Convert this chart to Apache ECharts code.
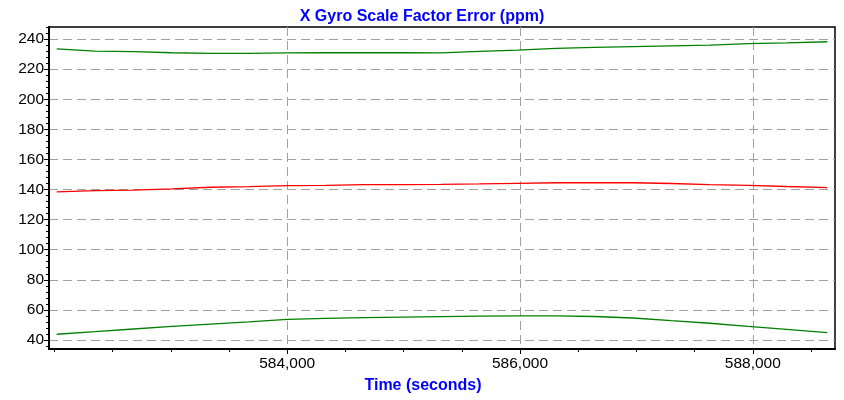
<!DOCTYPE html>
<html>
<head>
<meta charset="utf-8">
<script src="https://cdn.jsdelivr.net/npm/echarts@6/dist/echarts.min.js"></script>
<style>
html,body{margin:0;padding:0;background:#fff;}
#chart{width:844px;height:400px;}
</style>
</head>
<body>
<div id="chart"></div>
<script>
// ---- data ----
const timeSeconds = [582020, 582350, 582680, 583010, 583340, 583670, 584000, 584330, 584660, 584990, 585320, 585650, 585980, 586310, 586640, 586970, 587300, 587630, 587960, 588290, 588640];
const upperGreen = [233.4, 232.0, 231.6, 230.9, 230.5, 230.5, 230.8, 230.9, 230.9, 230.9, 230.8, 231.8, 232.6, 233.8, 234.5, 235.0, 235.5, 236.0, 236.9, 237.4, 238.2];
const middleRed  = [138.4, 139.2, 139.6, 140.4, 141.5, 141.9, 142.6, 142.8, 143.2, 143.3, 143.4, 143.7, 144.1, 144.5, 144.5, 144.5, 144.0, 143.3, 142.8, 142.0, 141.3];
const lowerGreen = [43.8, 45.5, 47.3, 49.0, 50.5, 52.0, 53.7, 54.3, 54.8, 55.2, 55.5, 55.8, 56.0, 56.0, 55.6, 54.6, 52.8, 51.1, 49.0, 47.0, 44.9];
const xMajorTicks = [584000, 586000, 588000];
const xMinorTicks = [582000, 582500, 583000, 583500, 584000, 584500, 585000, 585500, 586000, 586500, 587000, 587500, 588000, 588500];
const yMajorTicks = [40, 60, 80, 100, 120, 140, 160, 180, 200, 220, 240];
const yMinorTicks = [36, 40, 44, 48, 52, 56, 60, 64, 68, 72, 76, 80, 84, 88, 92, 96, 100, 104, 108, 112, 116, 120, 124, 128, 132, 136, 140, 144, 148, 152, 156, 160, 164, 168, 172, 176, 180, 184, 188, 192, 196, 200, 204, 208, 212, 216, 220, 224, 228, 232, 236, 240, 244, 248];
const titleText = 'X Gyro Scale Factor Error (ppm)';
const xAxisName = 'Time (seconds)';

const X_MIN = 581954, X_MAX = 588706;
const Y_MIN = 34, Y_MAX = 248;

const FONT = '"Liberation Sans", Arial, sans-serif';
const zip = (xs, ys) => xs.map((x, i) => [x, ys[i]]);
const gridDash = { color: '#a0a0a0', width: 1, type: [9, 5] };

const chart = echarts.init(document.getElementById('chart'), null, { renderer: 'canvas' });
chart.setOption({
  animation: false,
  backgroundColor: '#fff',
  title: {
    text: titleText, left: 'center', top: 4,
    textStyle: { fontFamily: FONT, fontSize: 16, fontWeight: 'bold', color: '#0000ff' }
  },
  grid: { left: 49, right: 9, top: 27, bottom: 51, show: true, borderColor: '#000', borderWidth: 1.5, backgroundColor: 'transparent' },
  xAxis: [
    {
      type: 'value', min: X_MIN, max: X_MAX, position: 'bottom',
      axisLine: { show: true, onZero: false, lineStyle: { color: '#000', width: 2 } },
      axisTick: { show: true, customValues: xMinorTicks, length: 3, lineStyle: { color: '#000', width: 1 } },
      axisLabel: { customValues: xMajorTicks, fontFamily: FONT, fontSize: 15.5, color: '#000', margin: 7,
        formatter: v => Number(v).toLocaleString('en-US') },
      splitLine: { show: false },
      name: xAxisName, nameLocation: 'middle', nameGap: 29,
      nameTextStyle: { fontFamily: FONT, fontSize: 16, fontWeight: 'bold', color: '#0000ff', padding: [0, 38, 0, 0] }
    },
    {
      type: 'value', min: X_MIN, max: X_MAX, position: 'bottom',
      axisLine: { show: false, onZero: false },
      axisTick: { show: true, customValues: xMajorTicks, length: 5, lineStyle: { color: '#000', width: 1 } },
      axisLabel: { show: false },
      splitLine: { show: true, lineStyle: gridDash }
    }
  ],
  yAxis: [
    {
      type: 'value', min: Y_MIN, max: Y_MAX, position: 'left',
      axisLine: { show: true, onZero: false, lineStyle: { color: '#000', width: 2 } },
      axisTick: { show: true, customValues: yMajorTicks, length: 5, lineStyle: { color: '#000', width: 1 } },
      axisLabel: { customValues: yMajorTicks, fontFamily: FONT, fontSize: 15.5, color: '#000', margin: 5 },
      splitLine: { show: true, lineStyle: gridDash }
    },
    {
      type: 'value', min: Y_MIN, max: Y_MAX, position: 'left',
      axisLine: { show: false, onZero: false },
      axisTick: { show: true, customValues: yMinorTicks, length: 3, lineStyle: { color: '#000', width: 1 } },
      axisLabel: { show: false },
      splitLine: { show: false }
    }
  ],
  series: [
    { type: 'line', name: 'upper', xAxisIndex: 0, yAxisIndex: 0, data: zip(timeSeconds, upperGreen), showSymbol: false, lineStyle: { color: '#008000', width: 1.3 }, itemStyle: { color: '#008000' } },
    { type: 'line', name: 'mean', xAxisIndex: 0, yAxisIndex: 0, data: zip(timeSeconds, middleRed), showSymbol: false, lineStyle: { color: '#ff0000', width: 1.3 }, itemStyle: { color: '#ff0000' } },
    { type: 'line', name: 'lower', xAxisIndex: 0, yAxisIndex: 0, data: zip(timeSeconds, lowerGreen), showSymbol: false, lineStyle: { color: '#008000', width: 1.3 }, itemStyle: { color: '#008000' } }
  ]
});
</script>
</body>
</html>
